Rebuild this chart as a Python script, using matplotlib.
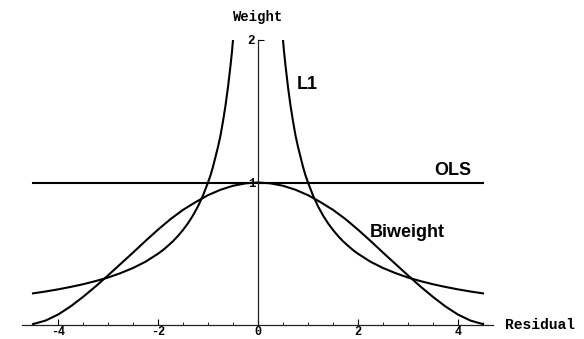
import matplotlib.pyplot as plt
from matplotlib.ticker import MultipleLocator

# right-half readings (curves are symmetric about residual = 0)
l1_resid = [0.5, 0.52, 0.55, 0.6, 0.65, 0.7, 0.75, 0.8, 0.85, 0.9, 0.95, 1.0,
            1.1, 1.2, 1.3, 1.4, 1.5, 1.6, 1.7, 1.8, 1.9, 2.0, 2.25, 2.5,
            2.75, 3.0, 3.25, 3.5, 3.75, 4.0, 4.25, 4.5]
l1_weight = [2.0, 1.92, 1.82, 1.67, 1.54, 1.43, 1.33, 1.25, 1.18, 1.11, 1.05,
             1.0, 0.909, 0.833, 0.769, 0.714, 0.667, 0.625, 0.588, 0.556,
             0.526, 0.5, 0.444, 0.4, 0.364, 0.333, 0.308, 0.286, 0.267, 0.25,
             0.235, 0.222]

bw_resid = [0.0, 0.25, 0.5, 0.75, 1.0, 1.25, 1.5, 1.75, 2.0, 2.25, 2.5, 2.75,
            3.0, 3.25, 3.5, 3.75, 4.0, 4.25, 4.5]
bw_weight = [1.0, 0.994, 0.977, 0.949, 0.911, 0.862, 0.808, 0.743, 0.669,
             0.590, 0.508, 0.428, 0.348, 0.270, 0.197, 0.130, 0.073, 0.031,
             0.006]

ols_resid = [-4.5, 4.5]
ols_weight = [1.0, 1.0]

x_ticks = [-4, -2, 0, 2, 4]
x_tick_labels = ["-4", "-2", "0", "2", "4"]
y_ticks = [1, 2]
y_tick_labels = ["1", "2"]

MONO = "Liberation Mono"
SANS = "Liberation Sans"

fig = plt.figure(figsize=(5.84, 3.39), dpi=100)
ax = fig.add_axes([22 / 584, 14 / 339, 471 / 584, 285 / 339])

lw = 1.5
# L1: left and right branches
ax.plot([-r for r in l1_resid], l1_weight, color="black", lw=lw)
ax.plot(l1_resid, l1_weight, color="black", lw=lw)
# biweight, mirrored
bw_x = [-r for r in reversed(bw_resid)] + bw_resid[1:]
bw_y = list(reversed(bw_weight)) + bw_weight[1:]
ax.plot(bw_x, bw_y, color="black", lw=lw)
# OLS
ax.plot(ols_resid, ols_weight, color="black", lw=lw)

ax.set_xlim(-4.72, 4.7)
ax.set_ylim(0, 2)

for side in ("top", "right"):
    ax.spines[side].set_visible(False)
ax.spines["left"].set_position(("data", 0))
ax.spines["bottom"].set_position(("data", 0))
for side in ("left", "bottom"):
    ax.spines[side].set_linewidth(0.9)
    ax.spines[side].set_color("#222222")

ax.set_xticks(x_ticks)
ax.set_xticklabels(x_tick_labels, family=MONO, fontsize=8.5, fontweight="bold")
ax.xaxis.set_minor_locator(MultipleLocator(0.5))
ax.set_yticks(y_ticks)
ax.set_yticklabels(y_tick_labels, family=MONO, fontsize=9, fontweight="bold")
ax.tick_params(axis="x", which="major", direction="in", length=4, width=0.8, pad=1)
ax.tick_params(axis="x", which="minor", direction="in", length=2, width=0.6)
ax.tick_params(axis="y", which="major", direction="in", length=4, width=0.8, pad=2)

ax.text(0, 2.16, "Weight", family=MONO, fontsize=10, fontweight="bold",
        ha="center", va="center", clip_on=False)
ax.text(4.94, 0, "Residual", family=MONO, fontsize=10.5, fontweight="bold",
        ha="left", va="center", clip_on=False)

ax.text(0.98, 1.69, "L1", family=SANS, fontsize=13, fontweight="bold",
        ha="center", va="center")
ax.text(3.9, 1.084, "OLS", family=SANS, fontsize=13, fontweight="bold",
        ha="center", va="center")
ax.text(2.98, 0.65, "Biweight", family=SANS, fontsize=13, fontweight="bold",
        ha="center", va="center")

fig.savefig("out.png", dpi=100)
